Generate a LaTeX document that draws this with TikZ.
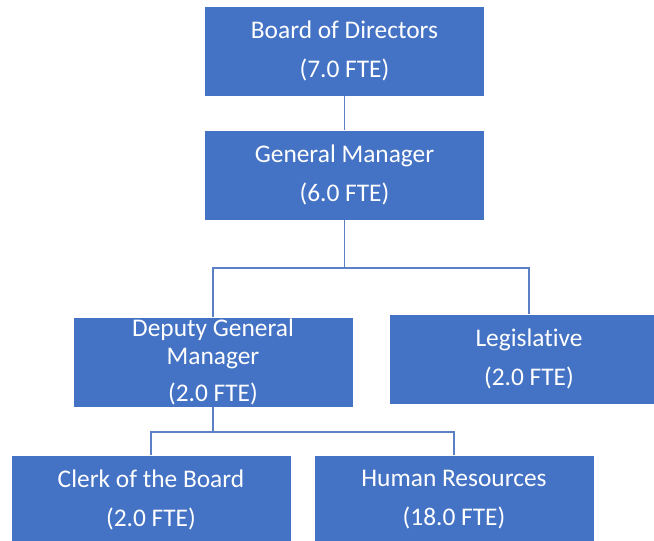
\documentclass[tikz,border=0pt]{standalone}
\usepackage{fontspec}
\setmainfont{Carlito}[Ligatures=NoCommon]
\begin{document}
\begin{tikzpicture}[x=1pt,y=1pt,
  unit/.style={fill=officeblue, draw=white, line width=0.6pt, text=white,
    minimum width=280pt, minimum height=90pt, align=center, inner sep=0pt,
    font=\fontsize{25.4}{28}\selectfont},
  link/.style={draw=linkblue, line width=1.3pt}]
\definecolor{officeblue}{HTML}{4472C4}
\definecolor{linkblue}{HTML}{5B80C6}
\clip (0,0) rectangle (654,-541);
\useasboundingbox (0,0) rectangle (654,-541);

% boxes of the chart
\node[unit] (board) at (344.5,-51) {Board of Directors\\[11pt](7.0 FTE)};
\node[unit] (gm)    at (344.5,-175) {General Manager\\[11pt](6.0 FTE)};
\node[unit] (dgm)   at (213,-362) {Deputy General\\Manager\\[9pt](2.0 FTE)};
\node[unit] (leg)   at (529,-359) {Legislative\\[11pt](2.0 FTE)};
\node[unit] (clerk) at (151,-500) {Clerk of the Board\\[11pt](2.0 FTE)};
\node[unit] (hr)    at (454,-500) {Human Resources\\[11pt](18.0 FTE)};

% junction points of the reporting lines
\coordinate (j1) at (344.5,-268);
\coordinate (j2) at (213,-432);

% reporting lines
\draw[link] (board.south) -- (gm.north);
\draw[link] (gm.south) -- (j1);
\draw[link] (dgm.north) |- (j1) -| (leg.north);
\draw[link] (dgm.south) -- (j2);
\draw[link] (clerk.north) |- (j2) -| (hr.north);
\end{tikzpicture}
\end{document}
